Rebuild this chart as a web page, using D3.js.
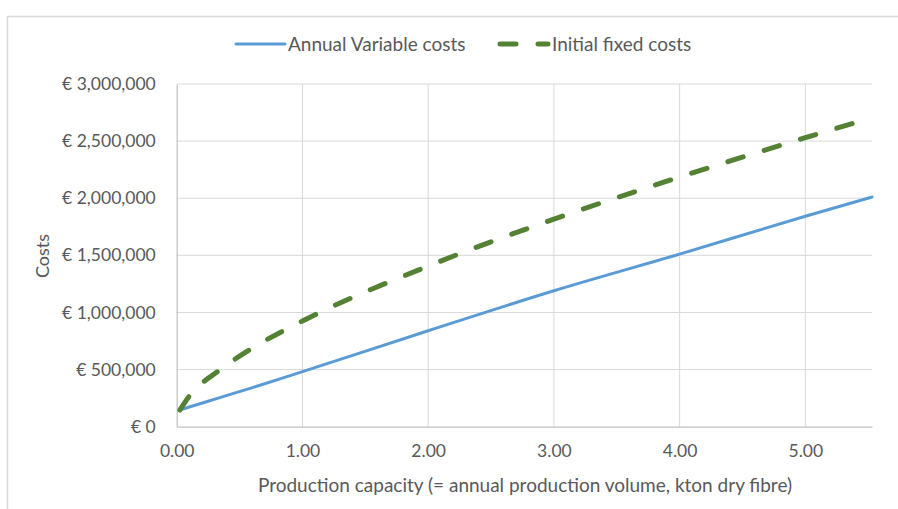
<!DOCTYPE html>
<html>
<head>
<meta charset="utf-8">
<script src="https://cdn.jsdelivr.net/npm/d3@7"></script>
<style>
  body { margin: 0; background: #fff; }
  svg text { font-family: Lato, "Open Sans", sans-serif; fill: #595959; }
</style>
</head>
<body>
<svg width="898" height="509"></svg>
<script>
// Production capacity (kton dry fibre)
const capacity = [0.025, 0.1, 0.33, 0.59, 1, 2, 3, 4, 5, 5.53];
// Annual variable costs (EUR)
const variableCosts = [146000, 172000, 250000, 338000, 482000, 840000, 1190000, 1511000, 1842000, 2010000];
// Initial fixed costs (EUR)
const fixedCosts = [146000, 268000, 487000, 680000, 925000, 1406000, 1817000, 2185000, 2530000, 2705000];
const xTicks = [0, 1, 2, 3, 4, 5];
const yTicks = [0, 500000, 1000000, 1500000, 2000000, 2500000, 3000000];
const seriesNames = ["Annual Variable costs", "Initial fixed costs"];

const svg = d3.select("svg");
const margin = {left: 176.7, right: 872, top: 84, bottom: 426.7};

const x = d3.scaleLinear().domain([0, 5.53]).range([margin.left, margin.right]);
const y = d3.scaleLinear().domain([0, 3000000]).range([margin.bottom, margin.top]);

// chart border (top and left only visible)
svg.append("path")
  .attr("d", "M7.5,509 V16.5 H898")
  .attr("fill", "none")
  .attr("stroke", "#d9d9d9")
  .attr("stroke-width", 1.5);

// gridlines
svg.append("g")
  .selectAll("line.hgrid")
  .data(yTicks.slice(1))
  .enter()
  .append("line")
  .attr("x1", margin.left).attr("x2", margin.right)
  .attr("y1", d => y(d)).attr("y2", d => y(d))
  .attr("stroke", "#d9d9d9").attr("stroke-width", 1);

svg.append("g")
  .selectAll("line.vgrid")
  .data(xTicks.slice(1))
  .enter()
  .append("line")
  .attr("x1", d => x(d)).attr("x2", d => x(d))
  .attr("y1", margin.top).attr("y2", margin.bottom)
  .attr("stroke", "#d9d9d9").attr("stroke-width", 1);

// axes
const xAxis = svg.append("g")
  .attr("transform", `translate(0,${margin.bottom})`)
  .call(d3.axisBottom(x).tickValues(xTicks).tickFormat(d3.format(".2f")).tickSize(0).tickPadding(18));
const yAxis = svg.append("g")
  .attr("transform", `translate(${margin.left},0)`)
  .call(d3.axisLeft(y).tickValues(yTicks).tickFormat(d => "€ " + d3.format(",")(d)).tickSize(0).tickPadding(21));

[xAxis, yAxis].forEach(a => {
  a.select(".domain").attr("stroke", "#bfbfbf").attr("stroke-width", 1.2);
  a.selectAll("text").style("font-size", "17.5px").attr("fill", "#595959");
});

// axis titles
svg.append("text")
  .attr("x", 525).attr("y", 492)
  .attr("text-anchor", "middle")
  .style("font-size", "19px")
  .text("Production capacity (= annual production volume, kton dry fibre)");

svg.append("text")
  .attr("transform", "translate(49,256) rotate(-90)")
  .attr("text-anchor", "middle")
  .style("font-size", "18px")
  .text("Costs");

// lines
const line = d3.line()
  .x((d, i) => x(capacity[i]))
  .y(d => y(d))
  .curve(d3.curveMonotoneX);

svg.append("path")
  .datum(variableCosts)
  .attr("d", line)
  .attr("fill", "none")
  .attr("stroke", "#5b9bd5")
  .attr("stroke-width", 3)
  .attr("stroke-linecap", "round");

svg.append("path")
  .datum(fixedCosts)
  .attr("d", line)
  .attr("fill", "none")
  .attr("stroke", "#548235")
  .attr("stroke-width", 5)
  .attr("stroke-dasharray", "16,22")
  .attr("stroke-linecap", "round");

// legend
const legend = svg.append("g");
legend.append("line")
  .attr("x1", 236).attr("x2", 285).attr("y1", 44).attr("y2", 44)
  .attr("stroke", "#5b9bd5").attr("stroke-width", 3).attr("stroke-linecap", "round");
legend.append("text")
  .attr("x", 288).attr("y", 51)
  .style("font-size", "19px")
  .text(seriesNames[0]);
legend.append("line")
  .attr("x1", 500).attr("x2", 548).attr("y1", 44).attr("y2", 44)
  .attr("stroke", "#548235").attr("stroke-width", 5)
  .attr("stroke-dasharray", "16,22").attr("stroke-linecap", "round");
legend.append("text")
  .attr("x", 552).attr("y", 51)
  .style("font-size", "19px")
  .text(seriesNames[1]);
</script>
</body>
</html>
